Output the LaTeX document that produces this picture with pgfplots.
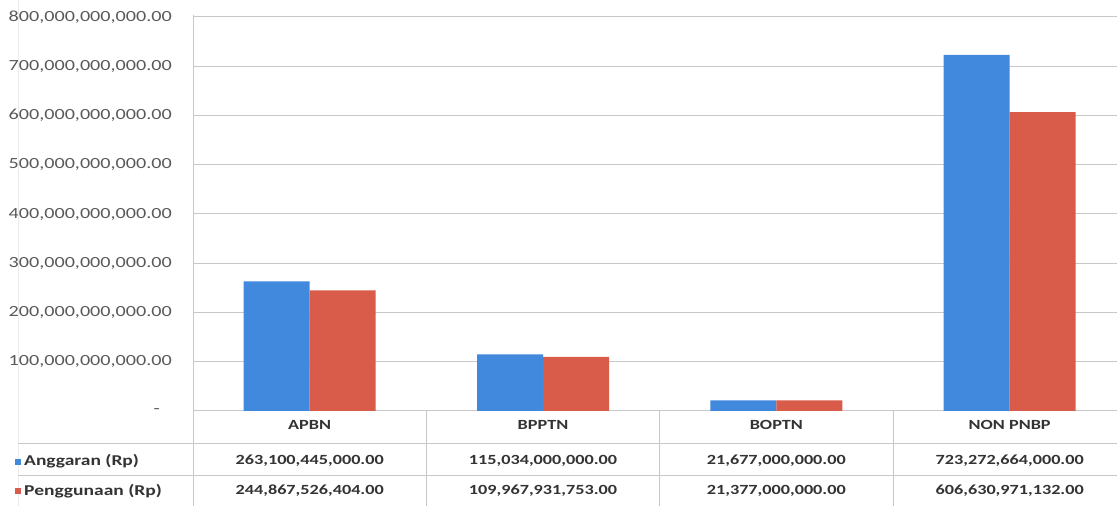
\documentclass[border=0pt]{standalone}
\usepackage{pgfplots}
\pgfplotsset{compat=1.18}
\usepackage{fontspec}
\setmainfont{Carlito}[FakeStretch=1.3]
\definecolor{cblue}{HTML}{4189DD}
\definecolor{cred}{HTML}{D95C4A}
\definecolor{gridc}{HTML}{C8C8C8}
\definecolor{txt}{HTML}{333333}
\definecolor{tickc}{HTML}{5A5A5A}

\begin{document}
\begin{tikzpicture}[x=1pt,y=1pt]
\useasboundingbox (0,0) rectangle (1117,506);
\fill[white] (0,0) rectangle (1117,506);
\begin{axis}[
  at={(193pt,95pt)}, anchor=south west,
  scale only axis, width=924pt, height=394pt,
  xmin=-0.5, xmax=3.46, ymin=0, ymax=8e11,
  ybar=0pt, bar width=66pt,
  axis line style={draw=none},
  ymajorgrids, grid style={gridc, line width=1pt},
  major tick length=0pt,
  xtick={0,1,2,3}, xticklabels={APBN,BPPTN,BOPTN,NON PNBP},
  ytick={0,100000000000,200000000000,300000000000,400000000000,500000000000,600000000000,700000000000,800000000000},
  yticklabels={{-\hspace*{12pt}},{100,000,000,000.00},{200,000,000,000.00},{300,000,000,000.00},{400,000,000,000.00},{500,000,000,000.00},{600,000,000,000.00},{700,000,000,000.00},{800,000,000,000.00}},
  yticklabel style={anchor=east, inner sep=0pt, xshift=-21pt, font=\fontsize{15.5}{18}\selectfont, text=tickc},
  xticklabel style={anchor=center, inner sep=0pt, yshift=-14pt, font=\fontsize{14}{16}\selectfont\bfseries, text=txt},
  clip=false,
  scaled y ticks=false,
]
\addplot[fill=cblue, draw=none] coordinates {(0,263100445000) (1,115034000000) (2,21677000000) (3,723272664000)};
\addplot[fill=cred, draw=none] coordinates {(0,244867526404) (1,109967931753) (2,21377000000) (3,606630971132)};
\end{axis}
% table grid
\draw[gray!15, line width=1pt] (18,0) -- (18,506);
\draw[gridc, line width=1pt] (193,0) -- (193,491);
\foreach \xx in {426.3,659.7,893} \draw[gridc, line width=1pt] (\xx,0) -- (\xx,95);
\draw[gridc, line width=1pt] (18,62) -- (1117,62);
\draw[gridc, line width=1pt] (18,30) -- (1117,30);
% legend keys
\fill[cblue] (15,41) rectangle (21,47);
\fill[cred] (15,12) rectangle (21,18);
\begin{scope}[every node/.style={inner sep=0pt, text=txt, font=\fontsize{15}{17}\selectfont\bfseries}]
\node[anchor=west] at (24,45) {Anggaran (Rp)};
\node[anchor=west] at (24,15) {Penggunaan (Rp)};
\end{scope}
\begin{scope}[every node/.style={inner sep=0pt, text=txt, font=\fontsize{14}{16}\selectfont\bfseries}]
\node at (309.7,45) {263,100,445,000.00};
\node at (543,45) {115,034,000,000.00};
\node at (776.3,45) {21,677,000,000.00};
\node at (1009.7,45) {723,272,664,000.00};
\node at (309.7,15) {244,867,526,404.00};
\node at (543,15) {109,967,931,753.00};
\node at (776.3,15) {21,377,000,000.00};
\node at (1009.7,15) {606,630,971,132.00};
\end{scope}
\end{tikzpicture}
\end{document}
